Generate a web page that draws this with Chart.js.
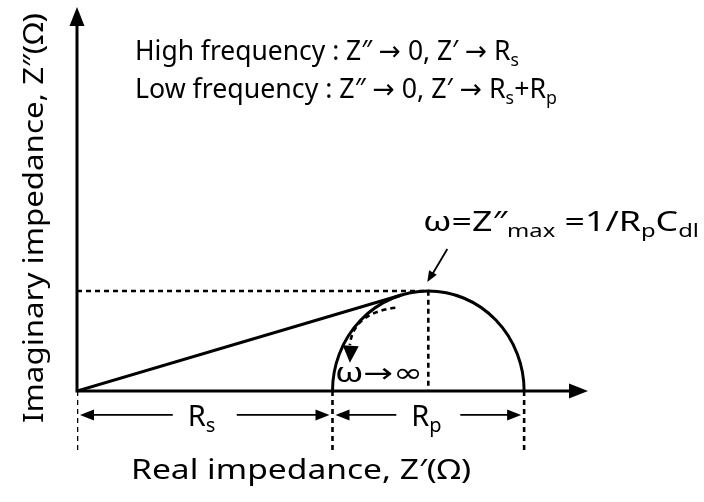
<!DOCTYPE html>
<html>
<head>
<meta charset="utf-8">
<script src="https://cdn.jsdelivr.net/npm/chart.js@4/dist/chart.umd.min.js"></script>
<style>
  html, body { margin: 0; padding: 0; background: #fff; }
  #wrap { width: 704px; height: 502px; }
</style>
</head>
<body>
<div id="wrap"><canvas id="nyquist" width="704" height="502"></canvas></div>
<script>
// Equivalent circuit values (arbitrary units on the real axis)
const rsValue = 50;
const rpValue = 37.5;

// Axis extents
const xRange = [0, 100];
const yRange = [-13, 72];

// Straight line from the origin up to the arc
const tangentX = [0, 63.5];
const tangentY = [0, 18.0];

// Real-axis positions of the guide lines under the axis (0, Rs, Rs+Rp)
const guideX = [0, rsValue, rsValue + rpValue];
const guideDepth = -11.5;
const dimArrowY = -4.5;

// Curved "frequency increases" arrow (data coordinates)
const sweepX = [62.3, 54.0, 53.4];
const sweepY = [15.6, 14.6, 8.6];
const sweepTipY = 5.3;

const FONT = "'Noto Sans', 'Open Sans', sans-serif";
const SYM = "'DejaVu Sans', sans-serif";

const peakX = rsValue + rpValue / 2;
const peakY = rpValue / 2;

// Build the line datasets
const datasets = [];
datasets.push({
    data: tangentX.map((x, i) => ({ x: x, y: tangentY[i] })),
    borderColor: '#000', borderWidth: 3, showLine: true, pointRadius: 0
});
datasets.push({
    data: [{ x: 0, y: peakY }, { x: peakX, y: peakY }, { x: peakX, y: 0 }],
    borderColor: '#000', borderWidth: 2.6, borderDash: [5, 4], showLine: true, pointRadius: 0
});
guideX.forEach(x => {
    datasets.push({
        data: [{ x: x, y: 0 }, { x: x, y: guideDepth }],
        borderColor: '#000', borderWidth: 2.6, borderDash: [5, 4], showLine: true, pointRadius: 0
    });
});

// Draws text made of normal, symbol and subscript runs, squeezed to a given width
function runFont(r, size) {
    const s = r.sub ? Math.round(size * 0.68) : size;
    return s + 'px ' + (r.sym ? SYM : FONT);
}

function drawRuns(ctx, runs, x, y, size, width) {
    let total = 0;
    runs.forEach(r => {
        ctx.font = runFont(r, size);
        r.w = ctx.measureText(r.t).width;
        total += r.w;
    });
    const k = width ? width / total : 1;
    ctx.save();
    ctx.translate(x, y);
    ctx.scale(k, 1);
    ctx.textBaseline = 'alphabetic';
    ctx.textAlign = 'left';
    ctx.fillStyle = '#000';
    let cx = 0;
    runs.forEach(r => {
        ctx.font = runFont(r, size);
        ctx.fillText(r.t, cx, r.sub ? size * 0.22 : 0);
        cx += r.w;
    });
    ctx.restore();
    return total * k;
}

function arrowHead(ctx, tipX, tipY, angle, len, half) {
    ctx.save();
    ctx.translate(tipX, tipY);
    ctx.rotate(angle);
    ctx.beginPath();
    ctx.moveTo(0, 0);
    ctx.lineTo(-len, -half);
    ctx.lineTo(-len, half);
    ctx.closePath();
    ctx.fill();
    ctx.restore();
}

const nyquistDecor = {
    id: 'nyquistDecor',
    beforeDatasetsDraw(chart) {
        const ctx = chart.ctx;
        const xs = chart.scales.x, ys = chart.scales.y;
        const x0 = xs.getPixelForValue(0), y0 = ys.getPixelForValue(0);
        ctx.save();
        ctx.strokeStyle = '#000';
        ctx.fillStyle = '#000';
        // axes with arrow heads
        const xEnd = xs.getPixelForValue(xRange[1]);
        const yEnd = ys.getPixelForValue(yRange[1]);
        ctx.lineWidth = 3;
        ctx.beginPath();
        ctx.moveTo(x0, y0);
        ctx.lineTo(xEnd - 12, y0);
        ctx.moveTo(x0, y0 + 1.5);
        ctx.lineTo(x0, yEnd + 12);
        ctx.stroke();
        arrowHead(ctx, xEnd, y0, 0, 19, 7.5);
        arrowHead(ctx, x0, yEnd, -Math.PI / 2, 19, 7.5);

        // semicircle of the parallel RC element
        const cx = xs.getPixelForValue(peakX);
        const rx = xs.getPixelForValue(rsValue + rpValue) - cx;
        const ry = y0 - ys.getPixelForValue(peakY);
        ctx.lineWidth = 3;
        ctx.beginPath();
        ctx.ellipse(cx, y0, rx, ry, 0, Math.PI, 2 * Math.PI);
        ctx.stroke();
        ctx.restore();
    },
    afterDraw(chart) {
        const ctx = chart.ctx;
        const xs = chart.scales.x, ys = chart.scales.y;
        const px = v => xs.getPixelForValue(v);
        const py = v => ys.getPixelForValue(v);
        ctx.save();
        ctx.strokeStyle = '#000';
        ctx.fillStyle = '#000';

        // dimension arrows for Rs and Rp
        const ay = py(dimArrowY);
        const dims = [
            { a: 0, b: rsValue, runs: [{ t: 'R' }, { t: 's', sub: true }] },
            { a: rsValue, b: rsValue + rpValue, runs: [{ t: 'R' }, { t: 'p', sub: true }] }
        ];
        dims.forEach(d => {
            const xa = px(d.a) + 3, xb = px(d.b) - 3;
            const mid = (xa + xb) / 2;
            ctx.lineWidth = 1.8;
            ctx.beginPath();
            ctx.moveTo(xa + 8, ay); ctx.lineTo(mid - 32, ay);
            ctx.moveTo(mid + 32, ay); ctx.lineTo(xb - 8, ay);
            ctx.stroke();
            arrowHead(ctx, xa, ay, Math.PI, 14, 5.5);
            arrowHead(ctx, xb, ay, 0, 14, 5.5);
            ctx.font = '29px ' + FONT;
            const w = ctx.measureText('R').width + 12;
            drawRuns(ctx, d.runs, mid - w / 2 - 2, ay + 11, 29);
        });

        // curved dashed arrow along the arc
        ctx.lineWidth = 2.6;
        ctx.setLineDash([5, 4]);
        ctx.beginPath();
        ctx.moveTo(px(sweepX[0]), py(sweepY[0]));
        ctx.quadraticCurveTo(px(sweepX[1]), py(sweepY[1]), px(sweepX[2]), py(sweepY[2]));
        ctx.stroke();
        ctx.setLineDash([]);
        arrowHead(ctx, px(sweepX[2]), py(sweepTipY), Math.PI / 2 + 0.05, 17, 8);

        // pointer to the top of the arc
        const tipX = px(peakX) - 1, tipY = py(peakY) - 9;
        ctx.lineWidth = 1.8;
        ctx.beginPath();
        ctx.moveTo(tipX + 20, tipY - 33);
        ctx.lineTo(tipX + 4, tipY - 6);
        ctx.stroke();
        arrowHead(ctx, tipX, tipY, Math.atan2(27, -16), 11, 4.5);

        // texts
        drawRuns(ctx, [{ t: 'High frequency : Z\u2033 ' }, { t: '\u2192', sym: true }, { t: ' 0, Z\u2032 ' },
                       { t: '\u2192', sym: true }, { t: ' R' }, { t: 's', sub: true }], 135, 60, 27, 384);
        drawRuns(ctx, [{ t: 'Low frequency : Z\u2033 ' }, { t: '\u2192', sym: true }, { t: ' 0, Z\u2032 ' },
                       { t: '\u2192', sym: true }, { t: ' R' }, { t: 's', sub: true },
                       { t: '+R' }, { t: 'p', sub: true }], 135, 98, 27, 422);
        drawRuns(ctx, [{ t: '\u03c9=Z\u2033' }, { t: 'max', sub: true }, { t: ' =1/R' }, { t: 'p', sub: true },
                       { t: 'C' }, { t: 'dl', sub: true }], 423, 231, 27, 276);
        drawRuns(ctx, [{ t: '\u03c9' }, { t: '\u2192\u221e', sym: true }], 335, 382, 27, 88);
        drawRuns(ctx, [{ t: 'Real impedance, Z\u2032(\u03a9)' }], 131, 479, 28, 340);

        ctx.save();
        ctx.translate(43, 423);
        ctx.rotate(-Math.PI / 2);
        drawRuns(ctx, [{ t: 'Imaginary impedance, Z\u2033(\u03a9)' }], 0, 0, 28, 410);
        ctx.restore();

        ctx.restore();
    }
};

new Chart(document.getElementById('nyquist'), {
    type: 'scatter',
    data: { datasets: datasets },
    options: {
        responsive: false,
        animation: false,
        layout: { padding: { left: 77, right: 116, top: 7, bottom: 41.7 } },
        plugins: { legend: { display: false }, tooltip: { enabled: false } },
        scales: {
            x: { type: 'linear', min: xRange[0], max: xRange[1], display: false },
            y: { type: 'linear', min: yRange[0], max: yRange[1], display: false }
        }
    },
    plugins: [nyquistDecor]
});
</script>
</body>
</html>
